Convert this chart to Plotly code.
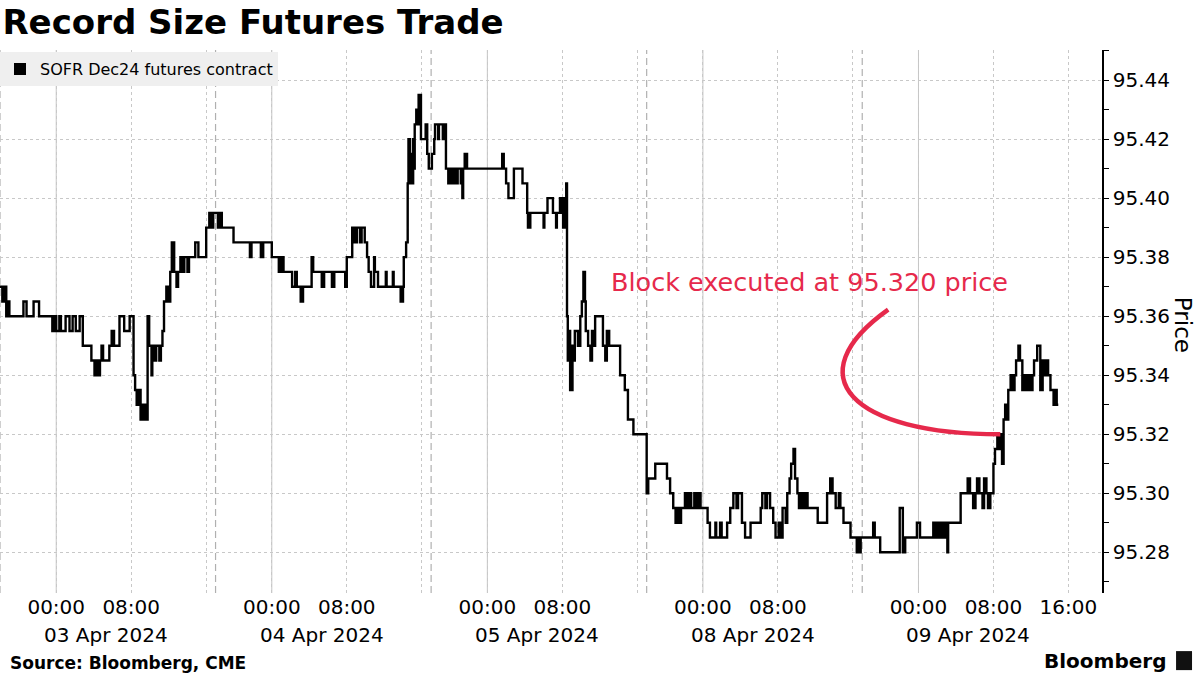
import plotly.graph_objects as go

# ---------------- data (session clock time ET, price) ----------------
# Each CME session runs 18:00 (previous day) -> 17:00 (session day)
apr03_session = [
    ("18:00", 95.37), ("18:15", 95.365), ("18:25", 95.37), ("18:40", 95.36), ("18:45", 95.365),
    ("19:00", 95.36), ("20:30", 95.365), ("20:50", 95.36), ("21:35", 95.365), ("22:10", 95.36),
    ("23:35", 95.355), ("23:45", 95.36), ("00:00", 95.355), ("00:20", 95.36), ("00:30", 95.355),
    ("01:00", 95.36), ("01:25", 95.355), ("01:45", 95.36), ("02:05", 95.355), ("02:30", 95.36),
    ("02:50", 95.35), ("03:45", 95.345), ("04:05", 95.34), ("04:20", 95.345), ("04:30", 95.34),
    ("04:40", 95.345), ("04:50", 95.35), ("05:00", 95.345), ("05:40", 95.35), ("05:55", 95.355),
    ("06:10", 95.35), ("06:45", 95.36), ("07:15", 95.355), ("07:50", 95.36), ("08:15", 95.34),
    ("08:25", 95.335), ("08:35", 95.33), ("08:45", 95.335), ("09:00", 95.325), ("09:05", 95.33),
    ("09:20", 95.325), ("09:30", 95.33), ("09:35", 95.325), ("09:45", 95.36), ("09:55", 95.35),
    ("10:10", 95.34), ("10:15", 95.35), ("10:30", 95.345), ("10:40", 95.35), ("11:00", 95.345),
    ("11:10", 95.35), ("11:20", 95.355), ("11:30", 95.365), ("11:45", 95.37), ("11:55", 95.365),
    ("12:10", 95.375), ("12:20", 95.385), ("12:35", 95.375), ("12:50", 95.37), ("13:00", 95.375),
    ("13:15", 95.38), ("13:25", 95.375), ("13:40", 95.38), ("14:00", 95.375), ("14:10", 95.38),
    ("14:50", 95.385), ("15:10", 95.38), ("16:00", 95.39), ("16:20", 95.395), ("16:30", 95.39),
    ("16:45", 95.395),
]
apr04_session = [
    ("18:00", 95.395), ("18:15", 95.39), ("18:25", 95.395), ("18:40", 95.39), ("19:55", 95.385),
    ("21:40", 95.38), ("21:50", 95.385), ("22:50", 95.38), ("23:05", 95.385), ("00:00", 95.38),
    ("00:45", 95.375), ("01:00", 95.38), ("01:15", 95.375), ("02:10", 95.37), ("02:30", 95.375),
    ("02:40", 95.37), ("03:05", 95.365), ("03:20", 95.37), ("04:15", 95.38), ("04:25", 95.375),
    ("05:20", 95.37), ("05:35", 95.375), ("06:25", 95.37), ("06:40", 95.375), ("07:50", 95.37),
    ("08:00", 95.38), ("08:35", 95.39), ("08:50", 95.385), ("09:05", 95.39), ("09:25", 95.385),
    ("09:35", 95.39), ("09:55", 95.385), ("10:10", 95.38), ("10:20", 95.375), ("10:35", 95.37),
    ("10:55", 95.38), ("11:00", 95.375), ("11:20", 95.37), ("12:10", 95.375), ("12:15", 95.37),
    ("12:55", 95.375), ("13:00", 95.37), ("13:45", 95.365), ("14:00", 95.37), ("14:05", 95.38),
    ("14:20", 95.385), ("14:30", 95.405), ("14:35", 95.42), ("14:45", 95.405), ("14:50", 95.415),
    ("14:55", 95.405), ("15:05", 95.42), ("15:10", 95.41), ("15:15", 95.425), ("15:25", 95.43),
    ("15:35", 95.425), ("15:40", 95.435), ("15:55", 95.42), ("16:25", 95.425), ("16:35", 95.415),
    ("16:45", 95.41),
]
apr05_session = [
    ("18:00", 95.41), ("18:05", 95.415), ("18:20", 95.42), ("18:25", 95.425), ("18:45", 95.42),
    ("18:50", 95.425), ("19:15", 95.42), ("19:25", 95.425), ("19:35", 95.41), ("19:50", 95.405),
    ("20:00", 95.41), ("20:15", 95.405), ("20:25", 95.41), ("20:40", 95.405), ("20:50", 95.41),
    ("21:10", 95.405), ("21:20", 95.40), ("21:25", 95.41), ("21:35", 95.415), ("21:50", 95.41),
    ("01:35", 95.415), ("01:45", 95.41), ("02:00", 95.405), ("02:15", 95.40), ("02:50", 95.41),
    ("03:45", 95.405), ("04:15", 95.395), ("04:20", 95.39), ("04:35", 95.395), ("06:00", 95.39),
    ("06:05", 95.395), ("06:25", 95.40), ("07:00", 95.395), ("07:20", 95.39), ("07:25", 95.395),
    ("07:45", 95.40), ("08:00", 95.395), ("08:05", 95.39), ("08:10", 95.40), ("08:20", 95.39),
    ("08:25", 95.405), ("08:30", 95.36), ("08:35", 95.345), ("08:40", 95.355), ("08:50", 95.335),
    ("09:05", 95.35), ("09:15", 95.345), ("09:20", 95.355), ("09:40", 95.35), ("09:55", 95.36),
    ("10:05", 95.365), ("10:15", 95.375), ("10:25", 95.365), ("10:30", 95.355), ("10:45", 95.35),
    ("11:00", 95.345), ("11:10", 95.355), ("11:25", 95.35), ("11:30", 95.36), ("12:20", 95.35),
    ("12:35", 95.345), ("12:45", 95.355), ("13:00", 95.35), ("14:10", 95.34), ("14:40", 95.335),
    ("15:00", 95.325), ("15:35", 95.32), ("16:50", 95.32),
]
apr08_session = [
    ("18:00", 95.30), ("18:10", 95.305), ("18:55", 95.31), ("20:10", 95.305), ("20:30", 95.30),
    ("20:50", 95.295), ("21:05", 95.29), ("21:15", 95.295), ("21:30", 95.29), ("21:40", 95.295),
    ("22:05", 95.30), ("22:20", 95.295), ("22:30", 95.30), ("22:45", 95.295), ("23:05", 95.30),
    ("23:15", 95.295), ("23:30", 95.30), ("23:45", 95.295), ("00:30", 95.29), ("00:45", 95.285),
    ("01:20", 95.29), ("01:25", 95.285), ("01:50", 95.29), ("02:00", 95.285), ("02:35", 95.29),
    ("02:55", 95.295), ("03:15", 95.30), ("03:35", 95.295), ("03:45", 95.30), ("04:10", 95.29),
    ("04:30", 95.285), ("05:05", 95.29), ("06:10", 95.295), ("06:20", 95.30), ("06:40", 95.295),
    ("06:50", 95.30), ("07:10", 95.295), ("07:30", 95.29), ("07:45", 95.285), ("08:05", 95.29),
    ("08:15", 95.285), ("08:30", 95.295), ("08:50", 95.29), ("09:00", 95.30), ("09:15", 95.305),
    ("09:25", 95.31), ("09:40", 95.315), ("09:50", 95.305), ("10:05", 95.30), ("10:15", 95.295),
    ("10:30", 95.30), ("10:45", 95.295), ("10:55", 95.30), ("11:10", 95.295), ("12:15", 95.29),
    ("13:15", 95.30), ("13:35", 95.305), ("13:50", 95.30), ("14:10", 95.295), ("14:30", 95.30),
    ("14:40", 95.295), ("15:00", 95.29), ("15:45", 95.285), ("16:25", 95.28), ("16:35", 95.285),
    ("16:40", 95.28), ("16:50", 95.285),
]
apr09_session = [
    ("18:00", 95.285), ("19:10", 95.29), ("19:20", 95.285), ("19:55", 95.28), ("22:00", 95.295),
    ("22:20", 95.28), ("22:35", 95.285), ("23:50", 95.29), ("00:10", 95.285), ("01:35", 95.29),
    ("01:45", 95.285), ("02:00", 95.29), ("02:15", 95.285), ("02:25", 95.29), ("02:40", 95.285),
    ("02:50", 95.29), ("03:05", 95.28), ("03:10", 95.29), ("04:30", 95.30), ("05:15", 95.305),
    ("05:30", 95.30), ("05:50", 95.295), ("06:05", 95.30), ("06:15", 95.305), ("06:30", 95.30),
    ("06:50", 95.295), ("07:00", 95.305), ("07:15", 95.30), ("07:25", 95.295), ("07:40", 95.30),
    ("08:00", 95.31), ("08:10", 95.315), ("08:25", 95.32), ("08:40", 95.315), ("08:45", 95.32),
    ("08:55", 95.31), ("09:05", 95.325), ("09:15", 95.33), ("09:30", 95.325), ("09:35", 95.335),
    ("09:50", 95.34), ("10:00", 95.335), ("10:15", 95.34), ("10:25", 95.345), ("10:40", 95.35),
    ("10:50", 95.345), ("11:05", 95.335), ("11:20", 95.34), ("11:30", 95.335), ("11:45", 95.34),
    ("11:55", 95.335), ("12:10", 95.34), ("12:20", 95.345), ("12:40", 95.35), ("13:00", 95.335),
    ("13:15", 95.345), ("13:25", 95.34), ("13:40", 95.345), ("13:50", 95.34), ("14:05", 95.335),
    ("14:25", 95.33), ("14:35", 95.335), ("14:45", 95.33), ("14:55", 95.33),
]

# (session start date, session date, points)
sessions = [
    ("2024-04-02", "2024-04-03", apr03_session),
    ("2024-04-03", "2024-04-04", apr04_session),
    ("2024-04-04", "2024-04-05", apr05_session),
    ("2024-04-07", "2024-04-08", apr08_session),
    ("2024-04-08", "2024-04-09", apr09_session),
]
day_labels = ["03 Apr 2024", "04 Apr 2024", "05 Apr 2024", "08 Apr 2024", "09 Apr 2024"]
series_name = "SOFR Dec24 futures contract"
block_price = 95.320
block_time = "2024-04-09 08:44"

# ---------------- build series ----------------
xs, ys = [], []
for start_day, day, pts in sessions:
    for hm, price in pts:
        d = start_day if int(hm[:2]) >= 18 else day
        xs.append(f"{d} {hm}")
        ys.append(price)

RED = "#e6294b"
GRID = "#c8c8c8"
FONT = "DejaVu Sans"

fig = go.Figure()
fig.add_trace(go.Scatter(x=xs, y=ys, mode="lines",
                         line=dict(color="black", width=2.4, shape="hv"),
                         showlegend=False, hoverinfo="skip"))
fig.add_trace(go.Scatter(x=[None], y=[None], mode="markers", name=series_name,
                         marker=dict(symbol="square", size=12, color="black")))

# session breaks (17:00-18:00 daily, weekend)
rangebreaks = [
    dict(bounds=["2024-04-03 17:00", "2024-04-03 18:00"]),
    dict(bounds=["2024-04-04 17:00", "2024-04-04 18:00"]),
    dict(bounds=["2024-04-05 17:00", "2024-04-07 18:00"]),
    dict(bounds=["2024-04-08 17:00", "2024-04-08 18:00"]),
    dict(bounds=["2024-04-09 17:00", "2024-04-09 18:00"]),
]

tickvals, ticktext = [], []
for i, (start_day, day, _) in enumerate(sessions):
    for hh in ["00:00", "08:00", "16:00"]:
        tickvals.append(f"{day} {hh}")
        if hh == "16:00" and i < len(sessions) - 1:
            ticktext.append("")
        else:
            ticktext.append(hh)

shapes = []
for start_day, day, _ in sessions:
    shapes.append(dict(type="line", xref="x", yref="paper", x0=f"{day} 00:00", x1=f"{day} 00:00",
                       y0=0, y1=1, line=dict(color="#c4c4c4", width=1), layer="below"))
    shapes.append(dict(type="line", xref="x", yref="paper", x0=f"{start_day} 18:00", x1=f"{start_day} 18:00",
                       y0=0, y1=1, line=dict(color="#b0b0b0", width=1.2, dash="7px,4px"), layer="below"))

# annotation curve ending at the block trade
shapes.append(dict(
    type="path", xref="x", yref="y", layer="above",
    path=("M 2024-04-08_20:46,95.3622 C 2024-04-08_09:52,95.3398 "
          f"2024-04-08_15:44,{block_price} {block_time.replace(' ', '_')},{block_price}"),
    line=dict(color=RED, width=4.5)))

# Bloomberg icon box
shapes.append(dict(type="rect", xref="paper", yref="paper", x0=1.0672, x1=1.0817, y0=-0.142, y1=-0.107,
                   fillcolor="#111111", line=dict(width=0)))

annotations = []
for (start_day, day, _), lab in zip(sessions, day_labels):
    annotations.append(dict(x=f"{day} 05:20", xref="x", y=-0.078, yref="paper", text=lab,
                            showarrow=False, font=dict(size=20, color="black", family=FONT),
                            xanchor="center", yanchor="middle"))
annotations += [
    dict(x=0.735, y=0.572, xref="paper", yref="paper", text=f"Block executed at {block_price:.3f} price",
         showarrow=False, font=dict(size=25.5, color=RED, family=FONT), xanchor="center", yanchor="middle"),
    dict(x=1.073, y=0.493, xref="paper", yref="paper", text="Price", textangle=90, showarrow=False,
         font=dict(size=23, color="black", family=FONT), xanchor="center", yanchor="middle"),
    dict(x=0.007, y=-0.128, xref="paper", yref="paper", text="<b>Source: Bloomberg, CME</b>",
         showarrow=False, font=dict(size=17, color="black", family=FONT), xanchor="left", yanchor="middle"),
    dict(x=1.06, y=-0.125, xref="paper", yref="paper", text="<b>Bloomberg</b>",
         showarrow=False, font=dict(size=20, color="black", family=FONT), xanchor="right", yanchor="middle"),
]

fig.update_layout(
    width=1200, height=675,
    margin=dict(l=0, r=98, t=50, b=82),
    paper_bgcolor="white", plot_bgcolor="white",
    font=dict(family=FONT, color="black"),
    title=dict(text="<b>Record Size Futures Trade</b>", x=0.002, xanchor="left", xref="container",
               y=0.967, yanchor="middle", yref="container", font=dict(size=34, color="black", family=FONT)),
    legend=dict(x=0, y=0.996, xanchor="left", yanchor="top", bgcolor="#efefef",
                font=dict(size=16, color="black", family=FONT), itemwidth=30),
    shapes=shapes, annotations=annotations,
    xaxis=dict(type="date", range=["2024-04-02 18:00", "2024-04-09 20:35"], rangebreaks=rangebreaks,
               tickvals=tickvals, ticktext=ticktext, showgrid=True, gridcolor=GRID, griddash="dot",
               gridwidth=1, showline=False, ticks="", zeroline=False,
               tickfont=dict(size=20, color="black", family=FONT)),
    yaxis=dict(side="right", range=[95.2662, 95.4502], tick0=95.28, dtick=0.02, tickformat=".2f",
               showline=True, linecolor="black", linewidth=1.5, ticks="outside", ticklen=5,
               tickcolor="black", showgrid=True, gridcolor=GRID, griddash="dot", zeroline=False,
               minor=dict(dtick=0.01, ticks="outside", ticklen=5, tickcolor="black", showgrid=False),
               tickfont=dict(size=20, color="black", family=FONT)),
)

fig.write_html("out.html", config={"displayModeBar": False},
               post_script="document.body.style.margin='0px';document.body.style.overflow='hidden';")
